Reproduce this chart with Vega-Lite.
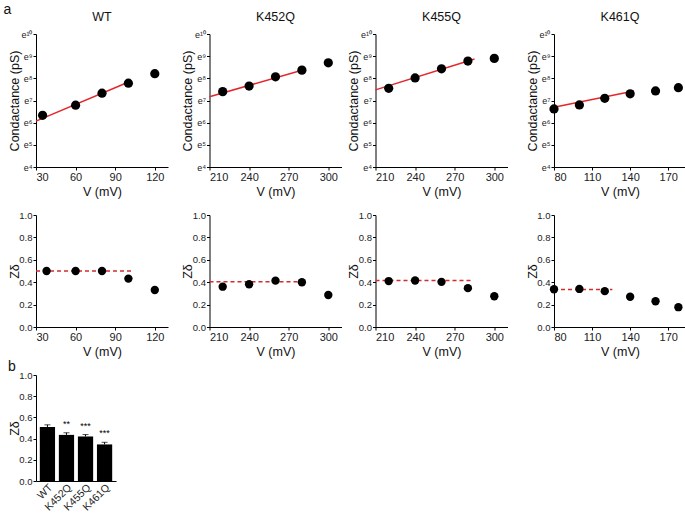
{
  "$schema": "https://vega.github.io/schema/vega-lite/v6.json",
  "padding": {"left": 3, "top": 2, "right": 0, "bottom": 0},
  "background": "white",
  "datasets": {
    "cond": [
      {"g": "WT", "V": 35, "lnG": 6.33},
      {"g": "WT", "V": 60, "lnG": 6.79},
      {"g": "WT", "V": 80, "lnG": 7.33},
      {"g": "WT", "V": 100, "lnG": 7.78},
      {"g": "WT", "V": 120, "lnG": 8.21},
      {"g": "K452Q", "V": 220, "lnG": 7.4},
      {"g": "K452Q", "V": 240, "lnG": 7.65},
      {"g": "K452Q", "V": 260, "lnG": 8.07},
      {"g": "K452Q", "V": 280, "lnG": 8.37},
      {"g": "K452Q", "V": 300, "lnG": 8.7},
      {"g": "K455Q", "V": 220, "lnG": 7.55},
      {"g": "K455Q", "V": 240, "lnG": 8.02},
      {"g": "K455Q", "V": 260, "lnG": 8.43},
      {"g": "K455Q", "V": 280, "lnG": 8.78},
      {"g": "K455Q", "V": 300, "lnG": 8.9},
      {"g": "K461Q", "V": 80, "lnG": 6.62},
      {"g": "K461Q", "V": 100, "lnG": 6.8},
      {"g": "K461Q", "V": 120, "lnG": 7.1},
      {"g": "K461Q", "V": 140, "lnG": 7.3},
      {"g": "K461Q", "V": 160, "lnG": 7.43},
      {"g": "K461Q", "V": 178, "lnG": 7.58}
    ],
    "fit": [
      {"g": "WT", "V": 30, "lnG": 6.07},
      {"g": "WT", "V": 102, "lnG": 7.88},
      {"g": "K452Q", "V": 210, "lnG": 7.17},
      {"g": "K452Q", "V": 282, "lnG": 8.4},
      {"g": "K455Q", "V": 210, "lnG": 7.48},
      {"g": "K455Q", "V": 285, "lnG": 8.87},
      {"g": "K461Q", "V": 80, "lnG": 6.7},
      {"g": "K461Q", "V": 143, "lnG": 7.43}
    ],
    "zd": [
      {"g": "WT", "V": 38, "z": 0.5},
      {"g": "WT", "V": 60, "z": 0.5},
      {"g": "WT", "V": 80, "z": 0.5},
      {"g": "WT", "V": 100, "z": 0.432},
      {"g": "WT", "V": 120, "z": 0.33},
      {"g": "K452Q", "V": 220, "z": 0.36},
      {"g": "K452Q", "V": 240, "z": 0.382},
      {"g": "K452Q", "V": 260, "z": 0.414},
      {"g": "K452Q", "V": 280, "z": 0.4},
      {"g": "K452Q", "V": 300, "z": 0.286},
      {"g": "K455Q", "V": 220, "z": 0.41},
      {"g": "K455Q", "V": 240, "z": 0.415},
      {"g": "K455Q", "V": 260, "z": 0.403},
      {"g": "K455Q", "V": 280, "z": 0.347},
      {"g": "K455Q", "V": 300, "z": 0.275},
      {"g": "K461Q", "V": 80, "z": 0.337},
      {"g": "K461Q", "V": 100, "z": 0.34},
      {"g": "K461Q", "V": 120, "z": 0.32},
      {"g": "K461Q", "V": 140, "z": 0.27},
      {"g": "K461Q", "V": 160, "z": 0.23},
      {"g": "K461Q", "V": 178, "z": 0.177}
    ],
    "zfit": [
      {"g": "WT", "V": 30, "z": 0.5},
      {"g": "WT", "V": 104, "z": 0.5},
      {"g": "K452Q", "V": 210, "z": 0.405},
      {"g": "K452Q", "V": 284, "z": 0.405},
      {"g": "K455Q", "V": 210, "z": 0.415},
      {"g": "K455Q", "V": 282, "z": 0.415},
      {"g": "K461Q", "V": 80, "z": 0.335},
      {"g": "K461Q", "V": 126, "z": 0.335}
    ],
    "bars": [
      {"g": "WT", "z": 0.51, "upper": 0.53, "sig": ""},
      {"g": "K452Q", "z": 0.435, "upper": 0.455, "sig": "**"},
      {"g": "K455Q", "z": 0.42, "upper": 0.438, "sig": "***"},
      {"g": "K461Q", "z": 0.345, "upper": 0.365, "sig": "***"}
    ]
  },
  "config": {
    "font": "Liberation Sans",
    "view": {"stroke": null},
    "axis": {
      "grid": false,
      "domainColor": "#000",
      "tickColor": "#000",
      "labelColor": "#222",
      "titleColor": "#111",
      "labelFont": "Liberation Sans",
      "titleFont": "Liberation Sans",
      "labelFontSize": 11,
      "titleFontSize": 12.5,
      "titleFontWeight": "normal",
      "tickSize": 3,
      "labelPadding": 1,
      "titlePadding": 3
    },
    "axisY": {"labelFontSize": 9.5, "titlePadding": 0, "minExtent": 15, "maxExtent": 15},
    "title": {"font": "Liberation Sans", "fontWeight": "normal", "color": "#111"},
    "concat": {"spacing": 2}
  },
  "vconcat": [
    {
      "title": {"text": "a", "anchor": "start", "fontSize": 14, "offset": -6, "dx": -4.5},
      "spacing": 5.5,
      "hconcat": [
        {
          "spacing": 13.5,
          "hconcat": [
            {
              "spacing": 12,
              "vconcat": [
                {
                  "width": 132, "height": 133,
                  "title": {"text": "WT", "fontSize": 12.5, "offset": 7},
                  "encoding": {
                    "x": {"field": "V", "type": "quantitative", "scale": {"domain": [30, 130], "nice": false}, "axis": {"values": [30, 60, 90, 120], "title": "V (mV)"}},
                    "y": {"field": "lnG", "type": "quantitative", "scale": {"domain": [4, 10], "nice": false}, "axis": {"values": [4, 5, 6, 7, 8, 9, 10], "labelExpr": "'e' + ['⁰','¹','²','³','⁴','⁵','⁶','⁷','⁸','⁹','¹⁰'][datum.value]", "labelFontSize": 9, "title": "Condactance (pS)"}}
                  },
                  "layer": [
                    {"data": {"name": "fit"}, "transform": [{"filter": "datum.g === 'WT'"}], "mark": {"type": "line", "color": "#e3262b", "strokeWidth": 1.5}},
                    {"data": {"name": "cond"}, "transform": [{"filter": "datum.g === 'WT'"}], "mark": {"type": "circle", "color": "#000", "opacity": 1, "size": 85}}
                  ]
                },
                {
                  "width": 132, "height": 112,
                  "encoding": {
                    "x": {"field": "V", "type": "quantitative", "scale": {"domain": [30, 130], "nice": false}, "axis": {"values": [30, 60, 90, 120], "title": "V (mV)"}},
                    "y": {"field": "z", "type": "quantitative", "scale": {"domain": [0, 1], "nice": false}, "axis": {"values": [0, 0.2, 0.4, 0.6, 0.8, 1], "format": ".1f", "title": "Zδ"}}
                  },
                  "layer": [
                    {"data": {"name": "zfit"}, "transform": [{"filter": "datum.g === 'WT'"}], "mark": {"type": "line", "color": "#d42b2b", "strokeWidth": 1.5, "strokeDash": [4, 3]}},
                    {"data": {"name": "zd"}, "transform": [{"filter": "datum.g === 'WT'"}], "mark": {"type": "circle", "color": "#000", "opacity": 1, "size": 70}}
                  ]
                }
              ]
            },
            {
              "spacing": 12,
              "vconcat": [
                {
                  "width": 132, "height": 133,
                  "title": {"text": "K452Q", "fontSize": 12.5, "offset": 7},
                  "encoding": {
                    "x": {"field": "V", "type": "quantitative", "scale": {"domain": [210, 310], "nice": false}, "axis": {"values": [210, 240, 270, 300], "title": "V (mV)"}},
                    "y": {"field": "lnG", "type": "quantitative", "scale": {"domain": [4, 10], "nice": false}, "axis": {"values": [4, 5, 6, 7, 8, 9, 10], "labelExpr": "'e' + ['⁰','¹','²','³','⁴','⁵','⁶','⁷','⁸','⁹','¹⁰'][datum.value]", "labelFontSize": 9, "title": "Condactance (pS)"}}
                  },
                  "layer": [
                    {"data": {"name": "fit"}, "transform": [{"filter": "datum.g === 'K452Q'"}], "mark": {"type": "line", "color": "#e3262b", "strokeWidth": 1.5}},
                    {"data": {"name": "cond"}, "transform": [{"filter": "datum.g === 'K452Q'"}], "mark": {"type": "circle", "color": "#000", "opacity": 1, "size": 85}}
                  ]
                },
                {
                  "width": 132, "height": 112,
                  "encoding": {
                    "x": {"field": "V", "type": "quantitative", "scale": {"domain": [210, 310], "nice": false}, "axis": {"values": [210, 240, 270, 300], "title": "V (mV)"}},
                    "y": {"field": "z", "type": "quantitative", "scale": {"domain": [0, 1], "nice": false}, "axis": {"values": [0, 0.2, 0.4, 0.6, 0.8, 1], "format": ".1f", "title": "Zδ"}}
                  },
                  "layer": [
                    {"data": {"name": "zfit"}, "transform": [{"filter": "datum.g === 'K452Q'"}], "mark": {"type": "line", "color": "#d42b2b", "strokeWidth": 1.5, "strokeDash": [4, 3]}},
                    {"data": {"name": "zd"}, "transform": [{"filter": "datum.g === 'K452Q'"}], "mark": {"type": "circle", "color": "#000", "opacity": 1, "size": 70}}
                  ]
                }
              ]
            }
          ]
        },
        {
          "spacing": 18.5,
          "hconcat": [
            {
              "spacing": 12,
              "vconcat": [
                {
                  "width": 132, "height": 133,
                  "title": {"text": "K455Q", "fontSize": 12.5, "offset": 7},
                  "encoding": {
                    "x": {"field": "V", "type": "quantitative", "scale": {"domain": [210, 310], "nice": false}, "axis": {"values": [210, 240, 270, 300], "title": "V (mV)"}},
                    "y": {"field": "lnG", "type": "quantitative", "scale": {"domain": [4, 10], "nice": false}, "axis": {"values": [4, 5, 6, 7, 8, 9, 10], "labelExpr": "'e' + ['⁰','¹','²','³','⁴','⁵','⁶','⁷','⁸','⁹','¹⁰'][datum.value]", "labelFontSize": 9, "title": "Condactance (pS)"}}
                  },
                  "layer": [
                    {"data": {"name": "fit"}, "transform": [{"filter": "datum.g === 'K455Q'"}], "mark": {"type": "line", "color": "#e3262b", "strokeWidth": 1.5}},
                    {"data": {"name": "cond"}, "transform": [{"filter": "datum.g === 'K455Q'"}], "mark": {"type": "circle", "color": "#000", "opacity": 1, "size": 85}}
                  ]
                },
                {
                  "width": 132, "height": 112,
                  "encoding": {
                    "x": {"field": "V", "type": "quantitative", "scale": {"domain": [210, 310], "nice": false}, "axis": {"values": [210, 240, 270, 300], "title": "V (mV)"}},
                    "y": {"field": "z", "type": "quantitative", "scale": {"domain": [0, 1], "nice": false}, "axis": {"values": [0, 0.2, 0.4, 0.6, 0.8, 1], "format": ".1f", "title": "Zδ"}}
                  },
                  "layer": [
                    {"data": {"name": "zfit"}, "transform": [{"filter": "datum.g === 'K455Q'"}], "mark": {"type": "line", "color": "#d42b2b", "strokeWidth": 1.5, "strokeDash": [4, 3]}},
                    {"data": {"name": "zd"}, "transform": [{"filter": "datum.g === 'K455Q'"}], "mark": {"type": "circle", "color": "#000", "opacity": 1, "size": 70}}
                  ]
                }
              ]
            },
            {
              "spacing": 12,
              "vconcat": [
                {
                  "width": 132, "height": 133,
                  "title": {"text": "K461Q", "fontSize": 12.5, "offset": 7},
                  "encoding": {
                    "x": {"field": "V", "type": "quantitative", "scale": {"domain": [80, 184], "nice": false}, "axis": {"values": [80, 110, 140, 170], "title": "V (mV)"}},
                    "y": {"field": "lnG", "type": "quantitative", "scale": {"domain": [4, 10], "nice": false}, "axis": {"values": [4, 5, 6, 7, 8, 9, 10], "labelExpr": "'e' + ['⁰','¹','²','³','⁴','⁵','⁶','⁷','⁸','⁹','¹⁰'][datum.value]", "labelFontSize": 9, "title": "Condactance (pS)"}}
                  },
                  "layer": [
                    {"data": {"name": "fit"}, "transform": [{"filter": "datum.g === 'K461Q'"}], "mark": {"type": "line", "color": "#e3262b", "strokeWidth": 1.5}},
                    {"data": {"name": "cond"}, "transform": [{"filter": "datum.g === 'K461Q'"}], "mark": {"type": "circle", "color": "#000", "opacity": 1, "size": 85}}
                  ]
                },
                {
                  "width": 132, "height": 112,
                  "encoding": {
                    "x": {"field": "V", "type": "quantitative", "scale": {"domain": [80, 184], "nice": false}, "axis": {"values": [80, 110, 140, 170], "title": "V (mV)"}},
                    "y": {"field": "z", "type": "quantitative", "scale": {"domain": [0, 1], "nice": false}, "axis": {"values": [0, 0.2, 0.4, 0.6, 0.8, 1], "format": ".1f", "title": "Zδ"}}
                  },
                  "layer": [
                    {"data": {"name": "zfit"}, "transform": [{"filter": "datum.g === 'K461Q'"}], "mark": {"type": "line", "color": "#d42b2b", "strokeWidth": 1.5, "strokeDash": [4, 3]}},
                    {"data": {"name": "zd"}, "transform": [{"filter": "datum.g === 'K461Q'"}], "mark": {"type": "circle", "color": "#000", "opacity": 1, "size": 70}}
                  ]
                }
              ]
            }
          ]
        }
      ]
    },
    {
      "width": 80, "height": 106,
      "title": {"text": "b", "anchor": "start", "fontSize": 14, "offset": -4},
      "data": {"name": "bars"},
      "encoding": {
        "x": {"field": "g", "type": "nominal", "sort": null, "scale": {"paddingInner": 0.2, "paddingOuter": 0.2}, "axis": {"title": null, "labelAngle": -45, "ticks": false, "labelFontSize": 10.5, "labelPadding": 1}}
      },
      "layer": [
        {"mark": {"type": "bar", "color": "#000"}, "encoding": {"y": {"field": "z", "type": "quantitative", "scale": {"domain": [0, 1], "nice": false}, "axis": {"values": [0, 0.2, 0.4, 0.6, 0.8, 1], "format": ".1f", "title": "Zδ"}}}},
        {"mark": {"type": "rule", "color": "#000", "strokeWidth": 1}, "encoding": {"y": {"field": "z", "type": "quantitative", "axis": {"values": [0, 0.2, 0.4, 0.6, 0.8, 1], "format": ".1f", "title": "Zδ"}}, "y2": {"field": "upper"}}},
        {"mark": {"type": "tick", "color": "#000", "size": 6, "thickness": 1}, "encoding": {"y": {"field": "upper", "type": "quantitative", "axis": {"values": [0, 0.2, 0.4, 0.6, 0.8, 1], "format": ".1f", "title": "Zδ"}}}},
        {"mark": {"type": "text", "fontSize": 9, "dy": -4, "baseline": "bottom", "color": "#000"}, "encoding": {"y": {"field": "upper", "type": "quantitative", "axis": {"values": [0, 0.2, 0.4, 0.6, 0.8, 1], "format": ".1f", "title": "Zδ"}}, "text": {"field": "sig"}}}
      ]
    }
  ]
}
